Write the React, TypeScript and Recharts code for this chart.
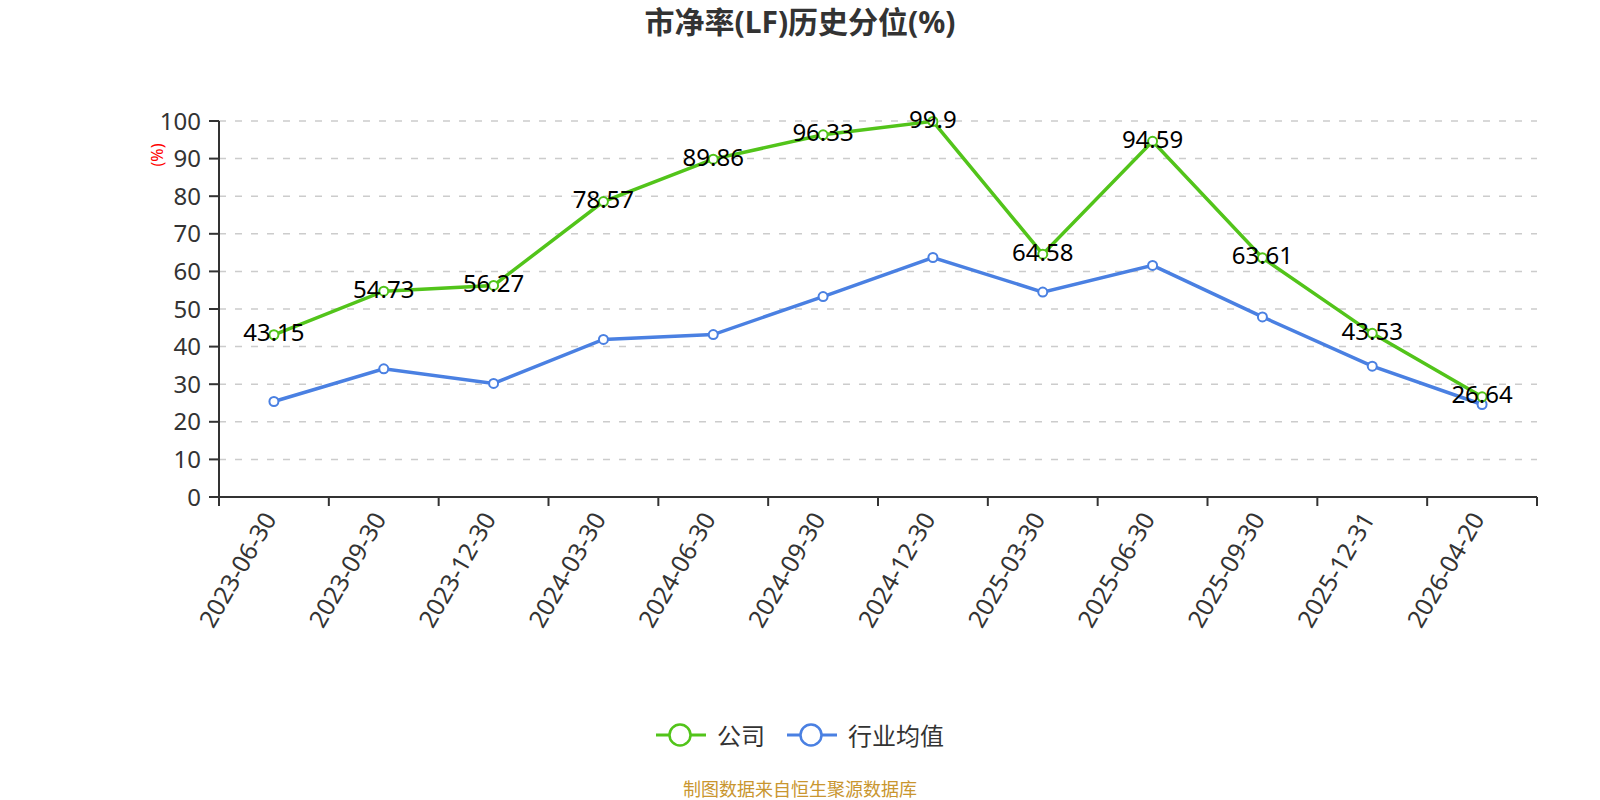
import React from 'react';
import { LineChart, Line, XAxis, YAxis, CartesianGrid, LabelList } from 'recharts';

const dates = [
  '2023-06-30', '2023-09-30', '2023-12-30', '2024-03-30', '2024-06-30', '2024-09-30',
  '2024-12-30', '2025-03-30', '2025-06-30', '2025-09-30', '2025-12-31', '2026-04-20',
];
const company = [43.15, 54.73, 56.27, 78.57, 89.86, 96.33, 99.9, 64.58, 94.59, 63.61, 43.53, 26.64];
const industry = [25.4, 34.1, 30.2, 41.9, 43.2, 53.3, 63.7, 54.5, 61.6, 47.9, 34.8, 24.6];
const yTicks = [0, 10, 20, 30, 40, 50, 60, 70, 80, 90, 100];

const data = dates.map((d, i) => ({ date: d, company: company[i], industry: industry[i] }));

const W = 1600;
const H = 800;
const PLOT_LEFT = 219;
const PLOT_RIGHT = 1537;
const PLOT_TOP = 121;
const PLOT_BOTTOM = 497;
const Y_AXIS_W = 80;
const X_AXIS_H = 150;
const BAND = (PLOT_RIGHT - PLOT_LEFT) / dates.length;

const FONT = "'Noto Sans', 'Noto Sans CJK SC', sans-serif";
const GREEN = '#52c41a';
const BLUE = '#4a80e2';

// category ticks sit on band boundaries, labels on band centres
const XTick = (props: any) => {
  const { x, payload, index } = props;
  const left = x - BAND / 2;
  const tx = x - 5;
  const ty = PLOT_BOTTOM + 17;
  return (
    <g>
      <line x1={left} x2={left} y1={PLOT_BOTTOM} y2={PLOT_BOTTOM + 9} stroke="#333" strokeWidth={2} />
      {index === dates.length - 1 && (
        <line x1={x + BAND / 2} x2={x + BAND / 2} y1={PLOT_BOTTOM} y2={PLOT_BOTTOM + 9} stroke="#333" strokeWidth={2} />
      )}
      <text
        x={tx}
        y={ty}
        transform={`rotate(-60 ${tx} ${ty})`}
        textAnchor="end"
        dominantBaseline="central"
        fontSize={24.5}
        fontFamily={FONT}
        fill="#333"
      >
        {payload.value}
      </text>
    </g>
  );
};

const ValueLabel = (props: any) => {
  const { x, y, value } = props;
  return (
    <text x={x} y={y - 3} textAnchor="middle" dominantBaseline="central" fontSize={24} fontFamily={FONT} fill="#000">
      {value}
    </text>
  );
};

const LegendItem = ({ color, label }: { color: string; label: string }) => (
  <div style={{ display: 'flex', alignItems: 'center', gap: 11 }}>
    <svg width={50} height={26}>
      <line x1={0} x2={50} y1={13} y2={13} stroke={color} strokeWidth={3} />
      <circle cx={24} cy={13} r={10.5} fill="#fff" stroke={color} strokeWidth={2.5} />
    </svg>
    <span style={{ fontSize: 24, color: '#333' }}>{label}</span>
  </div>
);

export default function App() {
  return (
    <div style={{ position: 'absolute', left: 0, top: 0, width: W, height: H, background: '#fff', fontFamily: FONT }}>
      <div style={{ position: 'absolute', top: -2, left: 0, width: W, textAlign: 'center', fontSize: 30, fontWeight: 'bold', color: '#333' }}>
        市净率(LF)历史分位(%)
      </div>
      <div
        style={{
          position: 'absolute', left: 157, top: 155, fontSize: 16, color: '#f00',
          transform: 'translate(-50%, -50%) rotate(-90deg)', whiteSpace: 'nowrap',
        }}
      >
        (%)
      </div>
      <LineChart
        width={W}
        height={H}
        data={data}
        margin={{ top: PLOT_TOP, right: W - PLOT_RIGHT, left: PLOT_LEFT - Y_AXIS_W, bottom: H - PLOT_BOTTOM - X_AXIS_H }}
      >
        <CartesianGrid horizontal vertical={false} stroke="#ccc" strokeWidth={1.5} strokeDasharray="7 9" />
        <XAxis
          dataKey="date"
          height={X_AXIS_H}
          interval={0}
          padding={{ left: BAND / 2, right: BAND / 2 }}
          tickLine={false}
          axisLine={{ stroke: '#333', strokeWidth: 2 }}
          tick={<XTick />}
        />
        <YAxis
          width={Y_AXIS_W}
          domain={[0, 100]}
          ticks={yTicks}
          interval={0}
          tickSize={10}
          tickMargin={8}
          axisLine={{ stroke: '#333', strokeWidth: 2 }}
          tickLine={{ stroke: '#333', strokeWidth: 2 }}
          tick={{ fontSize: 24, fill: '#333', fontFamily: FONT }}
        />
        <Line
          dataKey="industry"
          stroke={BLUE}
          strokeWidth={3.5}
          dot={{ r: 4.5, fill: '#fff', stroke: BLUE, strokeWidth: 2 }}
          isAnimationActive={false}
        />
        <Line
          dataKey="company"
          stroke={GREEN}
          strokeWidth={3.5}
          dot={{ r: 4.5, fill: '#fff', stroke: GREEN, strokeWidth: 2 }}
          isAnimationActive={false}
        >
          <LabelList dataKey="company" content={<ValueLabel />} />
        </Line>
      </LineChart>
      <div style={{ position: 'absolute', top: 717, left: 0, width: W, display: 'flex', justifyContent: 'center', gap: 22 }}>
        <LegendItem color={GREEN} label="公司" />
        <LegendItem color={BLUE} label="行业均值" />
      </div>
      <div style={{ position: 'absolute', top: 775, left: 0, width: W, textAlign: 'center', fontSize: 18, color: '#c9962f' }}>
        制图数据来自恒生聚源数据库
      </div>
    </div>
  );
}
